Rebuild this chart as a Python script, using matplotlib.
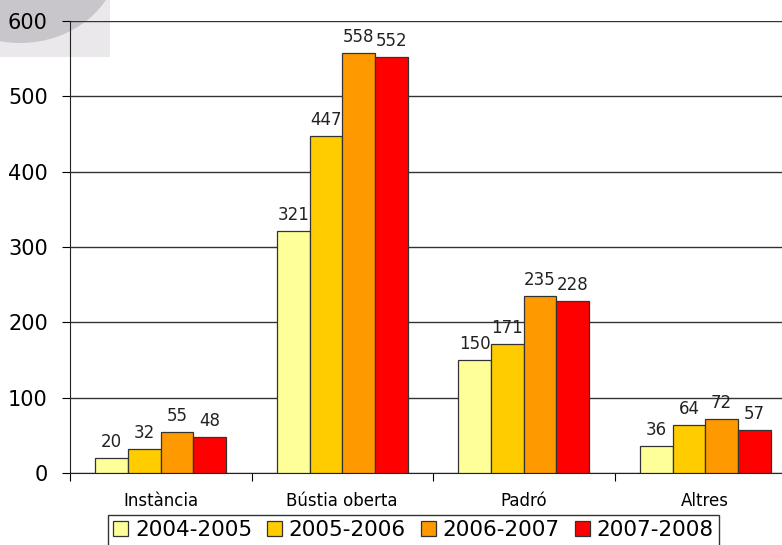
import numpy as np
import matplotlib.pyplot as plt
from matplotlib.patches import Ellipse, Rectangle

categories = ['Instància', 'Bústia oberta', 'Padró', 'Altres']
seasons = ['2004-2005', '2005-2006', '2006-2007', '2007-2008']
values = [
    [20, 321, 150, 36],
    [32, 447, 171, 64],
    [55, 558, 235, 72],
    [48, 552, 228, 57],
]
colors = ['#FFFF99', '#FFCC00', '#FF9900', '#FF0000']

fig = plt.figure(figsize=(7.82, 5.45), dpi=100)

# grey decoration in the top left corner, drawn behind everything (pixel coords)
bg = fig.add_axes([0, 0, 1, 1], zorder=-1)
bg.set_xlim(0, 782)
bg.set_ylim(545, 0)
bg.axis('off')
bg.add_patch(Rectangle((0, 0), 110, 57, facecolor='#eae8eb', edgecolor='none'))
bg.add_patch(Ellipse((20, -45), 200, 176, facecolor='#c8c6cb', edgecolor='none'))

ax = fig.add_axes([70 / 782, 72 / 545, 726 / 782, 452 / 545])
ax.patch.set_alpha(0)

x = np.arange(len(categories))
w = 0.18
for i, (s, vals) in enumerate(zip(seasons, values)):
    pos = x + (i - 1.5) * w
    bars = ax.bar(pos, vals, w, color=colors[i], edgecolor='#333333',
                  linewidth=0.9, label=s, zorder=3)
    for b, v in zip(bars, vals):
        ax.annotate(str(v), (b.get_x() + b.get_width() / 2, v),
                    xytext=(0, 5), textcoords='offset points',
                    ha='center', va='bottom', fontsize=12, color='#222222')

ax.set_xlim(-0.5, 3.5)
ax.set_ylim(0, 600)
ax.set_yticks(range(0, 601, 100))
ax.yaxis.grid(True, color='#333333', linewidth=1, zorder=0)
ax.set_axisbelow(True)

ax.set_xticks(np.arange(-0.5, 3.6, 1))
ax.set_xticklabels([])
ax.set_xticks(x, minor=True)
ax.set_xticklabels(categories, minor=True, fontsize=12)
ax.tick_params(axis='x', which='minor', length=0, pad=14)
ax.tick_params(axis='x', which='major', length=6, direction='out')
ax.tick_params(axis='y', length=6, pad=10, labelsize=15)

for side in ['top', 'right']:
    ax.spines[side].set_visible(False)
ax.spines['left'].set_color('#222222')
ax.spines['bottom'].set_color('#222222')

leg = fig.legend(loc='upper left', bbox_to_anchor=(108 / 782, 1 - 515 / 545),
                 ncol=4, fontsize=15.5, frameon=True, fancybox=False,
                 handlelength=0.7, handleheight=0.7, handletextpad=0.3,
                 columnspacing=0.7, borderpad=0.25, borderaxespad=0)
leg.get_frame().set_edgecolor('black')
leg.get_frame().set_linewidth(1)

fig.savefig('out.png', dpi=100)
